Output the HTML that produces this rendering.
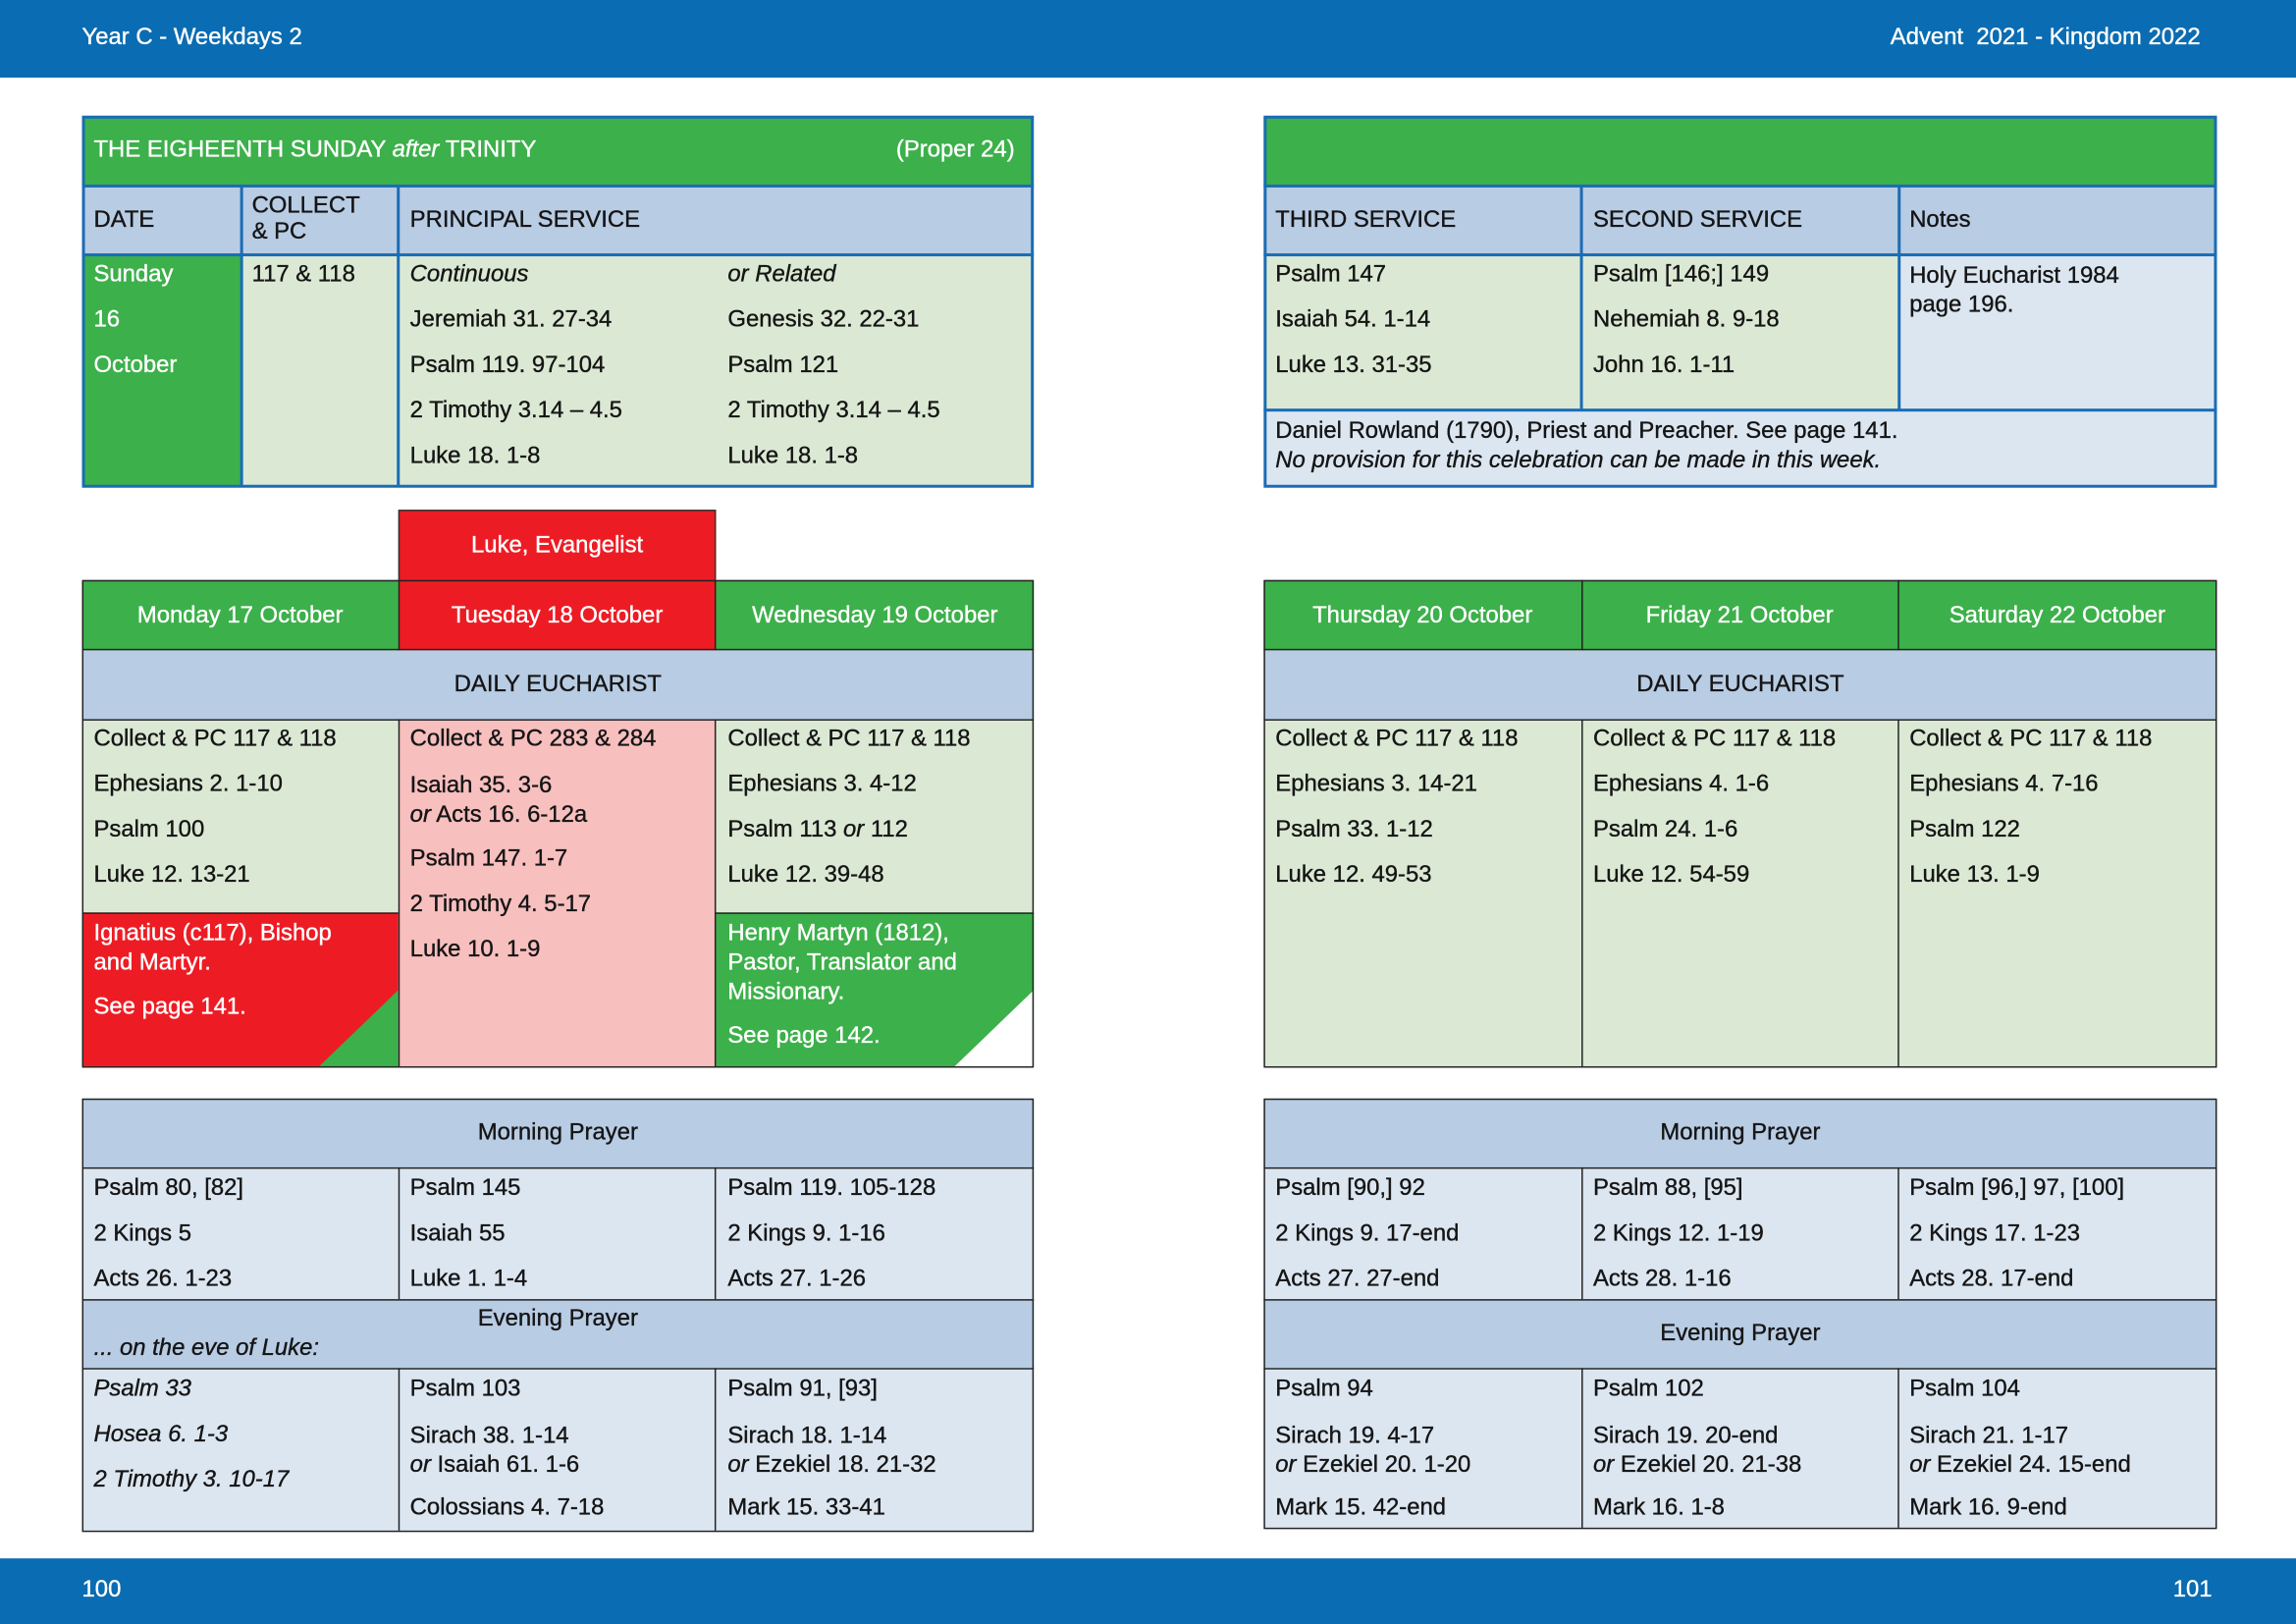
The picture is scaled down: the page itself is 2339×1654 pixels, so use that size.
<!DOCTYPE html>
<html><head><meta charset="utf-8"><style>
html,body{margin:0;padding:0;background:#fff;overflow:hidden}
body{width:2339px;height:1654px}
#p{position:absolute;left:0;top:0;width:1568px;height:1109px;transform:scale(1.49171);transform-origin:0 0;font-family:"Liberation Sans",sans-serif;font-size:16px;color:#151515}
#p div{position:absolute;box-sizing:border-box}
.t{white-space:nowrap;line-height:18px;-webkit-text-stroke:0.25px currentColor}
.w{color:#fff}
.i{font-style:italic}
.g{background:#3cb04a}
.lg{background:#dbe9d4}
.bg{background:#b8cce4}
.lb{background:#dce6f1}
.r{background:#ed1c24}
.pk{background:#f8bfbf}
.c{text-align:center}
</style></head><body><div id="p">
<div style="left:0;top:0;width:1568px;height:53px;background:#0a6cb2"></div>
<div class="t w" style="left:56px;top:17px">Year C - Weekdays 2</div>
<div class="t w" style="left:1291px;top:17px">Advent&nbsp; 2021 - Kingdom 2022</div>
<div style="left:0;top:1064px;width:1568px;height:45px;background:#0a6cb2"></div>
<div class="t w" style="left:56px;top:1077px">100</div>
<div class="t w" style="left:1484px;top:1077px">101</div>

<!-- top left -->
<div class="g" style="left:56px;top:79px;width:650px;height:48px"></div>
<div class="bg" style="left:56px;top:126px;width:650px;height:48px"></div>
<div class="g" style="left:56px;top:174px;width:109px;height:158px"></div>
<div class="lg" style="left:165px;top:174px;width:541px;height:158px"></div>
<div style="left:56px;top:79px;width:650px;height:254px;border:2px solid #1a6cb5"></div>
<div style="left:56px;top:126px;width:650px;height:2px;background:#1a6cb5"></div>
<div style="left:56px;top:173px;width:650px;height:2px;background:#1a6cb5"></div>
<div style="left:164px;top:126px;width:2px;height:206px;background:#1a6cb5"></div>
<div style="left:271px;top:126px;width:2px;height:206px;background:#1a6cb5"></div>
<div class="t w" style="left:64px;top:94px">THE EIGHEENTH SUNDAY <i>after</i> TRINITY</div>
<div class="t w" style="left:612px;top:94px">(Proper 24)</div>
<div class="t" style="left:64px;top:142px">DATE</div>
<div class="t" style="left:172px;top:132px">COLLECT<br>&amp; PC</div>
<div class="t" style="left:280px;top:142px">PRINCIPAL SERVICE</div>
<div class="t w" style="left:64px;top:172px;line-height:31px">Sunday<br>16<br>October</div>
<div class="t" style="left:172px;top:179px">117 &amp; 118</div>
<div class="t" style="left:280px;top:172px;line-height:31px"><i>Continuous</i><br>Jeremiah 31. 27-34<br>Psalm 119. 97-104<br>2 Timothy 3.14 – 4.5<br>Luke 18. 1-8</div>
<div class="t" style="left:497px;top:172px;line-height:31px"><i>or Related</i><br>Genesis 32. 22-31<br>Psalm 121<br>2 Timothy 3.14 – 4.5<br>Luke 18. 1-8</div>

<!-- top right -->
<div class="g" style="left:863px;top:79px;width:651px;height:48px"></div>
<div class="bg" style="left:863px;top:126px;width:651px;height:48px"></div>
<div class="lg" style="left:863px;top:174px;width:434px;height:106px"></div>
<div class="lb" style="left:1297px;top:174px;width:217px;height:106px"></div>
<div class="lb" style="left:863px;top:280px;width:651px;height:52px"></div>
<div style="left:863px;top:79px;width:651px;height:254px;border:2px solid #1a6cb5"></div>
<div style="left:863px;top:126px;width:651px;height:2px;background:#1a6cb5"></div>
<div style="left:863px;top:173px;width:651px;height:2px;background:#1a6cb5"></div>
<div style="left:863px;top:279px;width:651px;height:2px;background:#1a6cb5"></div>
<div style="left:1079px;top:126px;width:2px;height:154px;background:#1a6cb5"></div>
<div style="left:1296px;top:126px;width:2px;height:154px;background:#1a6cb5"></div>
<div class="t" style="left:871px;top:142px">THIRD SERVICE</div>
<div class="t" style="left:1088px;top:142px">SECOND SERVICE</div>
<div class="t" style="left:1304px;top:142px">Notes</div>
<div class="t" style="left:871px;top:172px;line-height:31px">Psalm 147<br>Isaiah 54. 1-14<br>Luke 13. 31-35</div>
<div class="t" style="left:1088px;top:172px;line-height:31px">Psalm [146;] 149<br>Nehemiah 8. 9-18<br>John 16. 1-11</div>
<div class="t" style="left:1304px;top:179px;line-height:20px">Holy Eucharist 1984<br>page 196.</div>
<div class="t" style="left:871px;top:285px;line-height:20px">Daniel Rowland (1790), Priest and Preacher. See page 141.<br><i>No provision for this celebration can be made in this week.</i></div>

<!-- weekdays left -->
<div class="r" style="left:272px;top:348px;width:217px;height:49px;border:1px solid #333"></div>
<div class="t w c" style="left:272px;top:364px;width:217px">Luke, Evangelist</div>
<div class="g" style="left:56px;top:396px;width:216px;height:48px"></div>
<div class="r" style="left:272px;top:396px;width:217px;height:48px"></div>
<div class="g" style="left:489px;top:396px;width:217px;height:48px"></div>
<div class="bg" style="left:56px;top:444px;width:650px;height:47px"></div>
<div class="lg" style="left:56px;top:491px;width:216px;height:132px"></div>
<div class="r" style="left:56px;top:623px;width:216px;height:105px"></div>
<svg style="position:absolute;left:218px;top:676px" width="54" height="52"><polygon points="54,0 54,52 0,52" fill="#3cb04a"/></svg>
<div class="pk" style="left:272px;top:491px;width:217px;height:237px"></div>
<div class="lg" style="left:489px;top:491px;width:217px;height:132px"></div>
<div class="g" style="left:489px;top:623px;width:217px;height:105px"></div>
<svg style="position:absolute;left:652px;top:676px" width="54" height="52"><polygon points="54,0 54,52 0,52" fill="#fff"/></svg>
<div style="left:56px;top:396px;width:650px;height:333px;border:1px solid #222"></div>
<div style="left:56px;top:443px;width:650px;height:1px;background:#222"></div>
<div style="left:56px;top:491px;width:650px;height:1px;background:#222"></div>
<div style="left:56px;top:623px;width:216px;height:1px;background:#222"></div>
<div style="left:489px;top:623px;width:217px;height:1px;background:#222"></div>
<div style="left:272px;top:396px;width:1px;height:48px;background:#222"></div>
<div style="left:488px;top:396px;width:1px;height:48px;background:#222"></div>
<div style="left:272px;top:491px;width:1px;height:237px;background:#222"></div>
<div style="left:488px;top:491px;width:1px;height:237px;background:#222"></div>
<div class="t w c" style="left:56px;top:412px;width:216px">Monday 17 October</div>
<div class="t w c" style="left:272px;top:412px;width:217px">Tuesday 18 October</div>
<div class="t w c" style="left:489px;top:412px;width:217px">Wednesday 19 October</div>
<div class="t c" style="left:56px;top:459px;width:650px">DAILY EUCHARIST</div>
<div class="t" style="left:64px;top:489px;line-height:31px">Collect &amp; PC 117 &amp; 118<br>Ephesians 2. 1-10<br>Psalm 100<br>Luke 12. 13-21</div>
<div class="t w" style="left:64px;top:628px;line-height:20px">Ignatius (c117), Bishop<br>and Martyr.</div>
<div class="t w" style="left:64px;top:679px">See page 141.</div>
<div class="t" style="left:280px;top:496px">Collect &amp; PC 283 &amp; 284</div>
<div class="t" style="left:280px;top:527px;line-height:20px">Isaiah 35. 3-6<br><i>or</i> Acts 16. 6-12a</div>
<div class="t" style="left:280px;top:571px;line-height:31px">Psalm 147. 1-7<br>2 Timothy 4. 5-17<br>Luke 10. 1-9</div>
<div class="t" style="left:497px;top:489px;line-height:31px">Collect &amp; PC 117 &amp; 118<br>Ephesians 3. 4-12<br>Psalm 113 <i>or</i> 112<br>Luke 12. 39-48</div>
<div class="t w" style="left:497px;top:628px;line-height:20px">Henry Martyn (1812),<br>Pastor, Translator and<br>Missionary.</div>
<div class="t w" style="left:497px;top:699px">See page 142.</div>

<!-- weekdays right -->
<div class="g" style="left:863px;top:396px;width:651px;height:48px"></div>
<div class="bg" style="left:863px;top:444px;width:651px;height:47px"></div>
<div class="lg" style="left:863px;top:491px;width:651px;height:237px"></div>
<div style="left:863px;top:396px;width:651px;height:333px;border:1px solid #222"></div>
<div style="left:863px;top:443px;width:651px;height:1px;background:#222"></div>
<div style="left:863px;top:491px;width:651px;height:1px;background:#222"></div>
<div style="left:1080px;top:396px;width:1px;height:48px;background:#222"></div>
<div style="left:1296px;top:396px;width:1px;height:48px;background:#222"></div>
<div style="left:1080px;top:491px;width:1px;height:237px;background:#222"></div>
<div style="left:1296px;top:491px;width:1px;height:237px;background:#222"></div>
<div class="t w c" style="left:863px;top:412px;width:217px">Thursday 20 October</div>
<div class="t w c" style="left:1080px;top:412px;width:216px">Friday 21 October</div>
<div class="t w c" style="left:1296px;top:412px;width:218px">Saturday 22 October</div>
<div class="t c" style="left:863px;top:459px;width:651px">DAILY EUCHARIST</div>
<div class="t" style="left:871px;top:489px;line-height:31px">Collect &amp; PC 117 &amp; 118<br>Ephesians 3. 14-21<br>Psalm 33. 1-12<br>Luke 12. 49-53</div>
<div class="t" style="left:1088px;top:489px;line-height:31px">Collect &amp; PC 117 &amp; 118<br>Ephesians 4. 1-6<br>Psalm 24. 1-6<br>Luke 12. 54-59</div>
<div class="t" style="left:1304px;top:489px;line-height:31px">Collect &amp; PC 117 &amp; 118<br>Ephesians 4. 7-16<br>Psalm 122<br>Luke 13. 1-9</div>

<!-- prayer left -->
<div class="bg" style="left:56px;top:750px;width:650px;height:47px"></div>
<div class="lb" style="left:56px;top:797px;width:650px;height:90px"></div>
<div class="bg" style="left:56px;top:887px;width:650px;height:47px"></div>
<div class="lb" style="left:56px;top:934px;width:650px;height:111px"></div>
<div style="left:56px;top:750px;width:650px;height:296px;border:1px solid #222"></div>
<div style="left:56px;top:797px;width:650px;height:1px;background:#222"></div>
<div style="left:56px;top:887px;width:650px;height:1px;background:#222"></div>
<div style="left:56px;top:934px;width:650px;height:1px;background:#222"></div>
<div style="left:272px;top:797px;width:1px;height:90px;background:#222"></div>
<div style="left:488px;top:797px;width:1px;height:90px;background:#222"></div>
<div style="left:272px;top:934px;width:1px;height:111px;background:#222"></div>
<div style="left:488px;top:934px;width:1px;height:111px;background:#222"></div>
<div class="t c" style="left:56px;top:765px;width:650px">Morning Prayer</div>
<div class="t" style="left:64px;top:796px;line-height:31px">Psalm 80, [82]<br>2 Kings 5<br>Acts 26. 1-23</div>
<div class="t" style="left:280px;top:796px;line-height:31px">Psalm 145<br>Isaiah 55<br>Luke 1. 1-4</div>
<div class="t" style="left:497px;top:796px;line-height:31px">Psalm 119. 105-128<br>2 Kings 9. 1-16<br>Acts 27. 1-26</div>
<div class="t c" style="left:56px;top:892px;width:650px">Evening Prayer</div>
<div class="t i" style="left:64px;top:912px">... on the eve of Luke:</div>
<div class="t i" style="left:64px;top:933px;line-height:31px">Psalm 33<br>Hosea 6. 1-3<br>2 Timothy 3. 10-17</div>
<div class="t" style="left:280px;top:940px">Psalm 103</div>
<div class="t" style="left:280px;top:971px;line-height:20px">Sirach 38. 1-14<br><i>or</i> Isaiah 61. 1-6</div>
<div class="t" style="left:280px;top:1021px">Colossians 4. 7-18</div>
<div class="t" style="left:497px;top:940px">Psalm 91, [93]</div>
<div class="t" style="left:497px;top:971px;line-height:20px">Sirach 18. 1-14<br><i>or</i> Ezekiel 18. 21-32</div>
<div class="t" style="left:497px;top:1021px">Mark 15. 33-41</div>

<!-- prayer right -->
<div class="bg" style="left:863px;top:750px;width:651px;height:47px"></div>
<div class="lb" style="left:863px;top:797px;width:651px;height:90px"></div>
<div class="bg" style="left:863px;top:887px;width:651px;height:47px"></div>
<div class="lb" style="left:863px;top:934px;width:651px;height:109px"></div>
<div style="left:863px;top:750px;width:651px;height:294px;border:1px solid #222"></div>
<div style="left:863px;top:797px;width:651px;height:1px;background:#222"></div>
<div style="left:863px;top:887px;width:651px;height:1px;background:#222"></div>
<div style="left:863px;top:934px;width:651px;height:1px;background:#222"></div>
<div style="left:1080px;top:797px;width:1px;height:90px;background:#222"></div>
<div style="left:1296px;top:797px;width:1px;height:90px;background:#222"></div>
<div style="left:1080px;top:934px;width:1px;height:109px;background:#222"></div>
<div style="left:1296px;top:934px;width:1px;height:109px;background:#222"></div>
<div class="t c" style="left:863px;top:765px;width:651px">Morning Prayer</div>
<div class="t" style="left:871px;top:796px;line-height:31px">Psalm [90,] 92<br>2 Kings 9. 17-end<br>Acts 27. 27-end</div>
<div class="t" style="left:1088px;top:796px;line-height:31px">Psalm 88, [95]<br>2 Kings 12. 1-19<br>Acts 28. 1-16</div>
<div class="t" style="left:1304px;top:796px;line-height:31px">Psalm [96,] 97, [100]<br>2 Kings 17. 1-23<br>Acts 28. 17-end</div>
<div class="t c" style="left:863px;top:902px;width:651px">Evening Prayer</div>
<div class="t" style="left:871px;top:940px">Psalm 94</div>
<div class="t" style="left:871px;top:971px;line-height:20px">Sirach 19. 4-17<br><i>or</i> Ezekiel 20. 1-20</div>
<div class="t" style="left:871px;top:1021px">Mark 15. 42-end</div>
<div class="t" style="left:1088px;top:940px">Psalm 102</div>
<div class="t" style="left:1088px;top:971px;line-height:20px">Sirach 19. 20-end<br><i>or</i> Ezekiel 20. 21-38</div>
<div class="t" style="left:1088px;top:1021px">Mark 16. 1-8</div>
<div class="t" style="left:1304px;top:940px">Psalm 104</div>
<div class="t" style="left:1304px;top:971px;line-height:20px">Sirach 21. 1-17<br><i>or</i> Ezekiel 24. 15-end</div>
<div class="t" style="left:1304px;top:1021px">Mark 16. 9-end</div>
</div></body></html>
